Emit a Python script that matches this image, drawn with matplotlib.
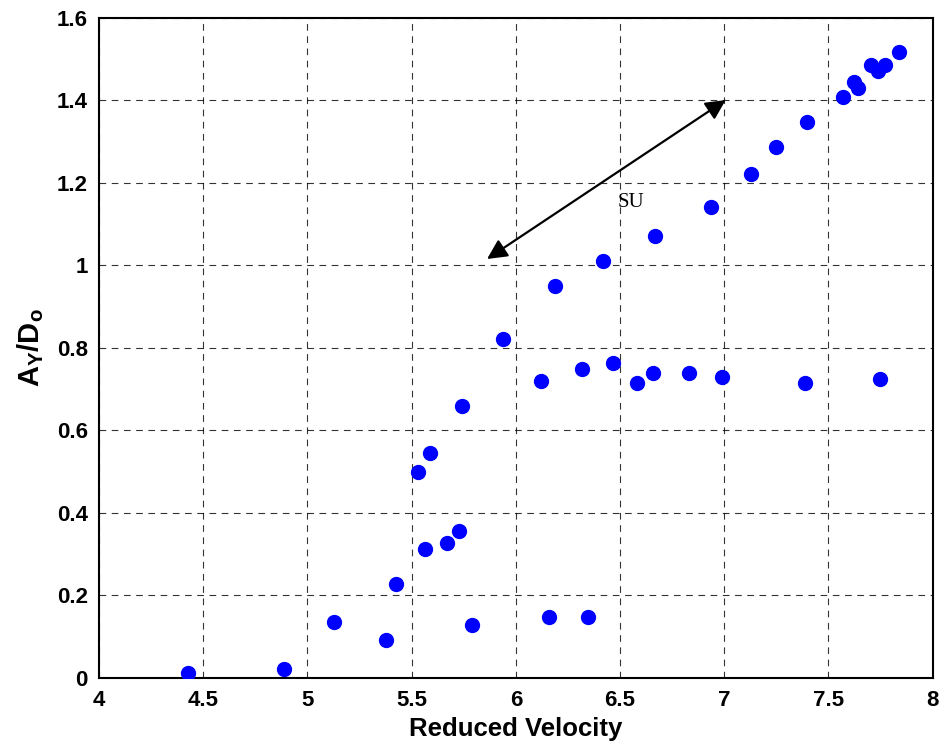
import matplotlib
matplotlib.use('Agg')
import matplotlib.pyplot as plt
from matplotlib.ticker import FuncFormatter

# Данные
reduced_velocity = [4.427, 4.887, 5.127, 5.376, 5.424, 5.530, 5.564, 5.588, 5.669, 5.727,
                    5.741, 5.789, 5.938, 6.120, 6.158, 6.187, 6.317, 6.345, 6.417, 6.465,
                    6.580, 6.657, 6.667, 6.830, 6.935, 6.988, 7.127, 7.247, 7.386, 7.396,
                    7.568, 7.621, 7.640, 7.746, 7.703, 7.736, 7.770, 7.837]
amplitude = [0.012, 0.022, 0.136, 0.092, 0.228, 0.499, 0.312, 0.545, 0.327, 0.356,
             0.659, 0.128, 0.821, 0.719, 0.148, 0.950, 0.749, 0.148, 1.010, 0.763,
             0.715, 0.739, 1.071, 0.739, 1.141, 0.729, 1.221, 1.286, 0.715, 1.347,
             1.407, 1.444, 1.429, 0.724, 1.485, 1.470, 1.485, 1.516]

arrow_start = (5.862, 1.015)
arrow_end = (7.007, 1.400)
label_pos = (6.49, 1.151)

plt.rcParams['font.family'] = ['Liberation Sans', 'DejaVu Sans']
plt.rcParams['mathtext.fontset'] = 'custom'
plt.rcParams['mathtext.rm'] = 'Liberation Sans'
plt.rcParams['mathtext.bf'] = 'Liberation Sans:bold'

fig = plt.figure(figsize=(9.43, 7.48), dpi=100)
ax = fig.add_axes([0.105, 0.0936, 0.884, 0.883])

ax.plot(reduced_velocity, amplitude, 'o', color='#0000ff', markersize=10, zorder=3)

ax.annotate('', xy=arrow_end, xytext=arrow_start,
            arrowprops=dict(arrowstyle='<|-|>', color='black', lw=1.6,
                            mutation_scale=30, shrinkA=0, shrinkB=0))
ax.text(label_pos[0], label_pos[1], 'SU', family='Liberation Serif', fontsize=15,
        va='center', ha='left')

ax.set_xlim(4, 8)
ax.set_ylim(0, 1.6)
ax.set_xticks([4, 4.5, 5, 5.5, 6, 6.5, 7, 7.5, 8])
ax.set_yticks([0, 0.2, 0.4, 0.6, 0.8, 1, 1.2, 1.4, 1.6])
fmt = FuncFormatter(lambda v, p: '%g' % v)
ax.xaxis.set_major_formatter(fmt)
ax.yaxis.set_major_formatter(fmt)
ax.tick_params(direction='in', length=0, labelsize=16)
ax.tick_params(axis='x', pad=9)
ax.tick_params(axis='y', pad=8)
for lbl in ax.get_xticklabels() + ax.get_yticklabels():
    lbl.set_fontweight('bold')

ax.grid(True, color='black', linestyle=(0, (6, 5)), linewidth=0.8, alpha=0.8)
for s in ax.spines.values():
    s.set_linewidth(1.5)

ax.set_xlabel('Reduced Velocity', fontsize=18.5, fontweight='bold', labelpad=4)
ax.set_ylabel(r'$\mathbf{A}_\mathbf{Y}\mathbf{/D}_\mathbf{o}$', fontsize=21, labelpad=8)

plt.savefig('out.png', dpi=100)
plt.close()
